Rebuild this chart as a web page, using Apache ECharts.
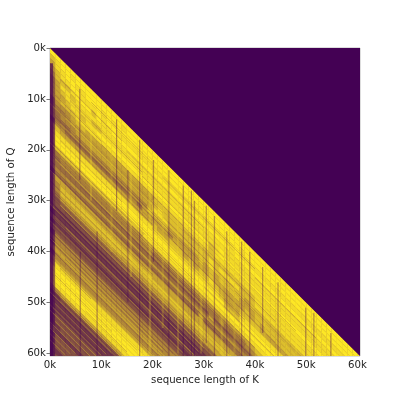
<!DOCTYPE html>
<html><head><meta charset="utf-8">
<script src="https://cdn.jsdelivr.net/npm/echarts@6/dist/echarts.min.js"></script>
<style>html,body{margin:0;padding:0;background:#fff}#c{width:400px;height:400px}</style>
</head><body><div id="c"></div><script>
// One string per Q row (1k steps); one digit per K cell (1k steps), 0 = dark, 9 = bright. Read by eye.
const cellRows = [
"9","79","689","5899","47899","378989","3678999","36879899","367889899","2668798999",
"2677889899 9","2567888989 99","2456788879 899","1456787889 8999","2545788878 89899","2754578887 889989",
"2864567789 8898999","2986456778 98898999","2998645677 898898999","2899864567 7898898999",
"2589986456 7789889899 9","2468998645 6778988989 99","2456899864 5677898898 999","1545689986 4567789889 8999",
"2454568998 6456778988 98999","2645456899 8645677898 898999","2564545689 9864567789 8898999","2576454568 9986456778 98898999",
"2477645456 8998655677 898898999","2367764545 6899865567 7898898999","2346776454 5689986456 7789889899 9",
"1234677645 4568998667 8878988989 99","2223467764 5456899866 7877898898 999","1322346776 4545689986 6787789889 8999",
"2232234677 6454568998 7677778988 98999","1323223467 7645456899 8666777898 898999","2432322346 7764545689 9865677789 8898999",
"1543232234 6776454568 9987667778 98898999","2554323223 4677645456 8998766777 878898999","1655432322 3467764545 6899876677 7789889899",
"2565543232 2346776454 5689986667 7789889899 9","2656554323 2234677645 4568998767 7878988989 99",
"3865655432 3223467764 5456899866 6877898898 999","3986565543 2322346776 4545689987 6778789889 8999",
"3998656554 3232234677 6454568998 7767878988 98999","3999865655 4323223467 7645456899 8867787898 898999",
"2899986565 5432322346 7764545689 9876778789 8898999","1589998656 5543232234 6776454568 9986677778 98898999",
"1268999865 6554323223 4677645456 8997667777 898898999","1236899986 5655432322 3467764545 6899666667 8898898999",
"1223689998 6565543232 2346776454 5689766667 8889889899 9","1222368999 8656554323 2234677645 4568976776 7888988989 99",
"1322236899 9865655432 3223467766 5656897876 7788898898 999","1332223689 9986565543 2322346776 4546689987 7778889889 8999",
"2233222368 9998656554 3232234677 6454568998 7677888988 98999","1233322236 8999865655 4323223467 7645456899 8677788898 898999",
"1323332223 6899986565 5432322346 7764545689 9867778889 8898999","1332333222 3689998656 5543232234 6776454568 9986777888 98898999",
"1333233322 2368999865 6554323223 4677645456 8998677788 898898999","1233323332 2236899986 5655432322 3467764545 7899867778 8898898999",
"1323332333 2223789998 6565543232 2346776454 6799986777 8889889899 9"
];
// Thin diagonal streaks: [Q - K offset in k, from K in k, to K in k]
const darkDiagonals = [
[2.6,8,20],[3.4,22,40],[4.2,2,14],[5.3,15,30],[5.1,40,52],[6.4,4,18],[7.2,18,34],[7.6,34,48],[8.3,1,10],[8.9,10,26],
[9.7,26,44],[10.4,3,22],[11.2,22,36],[11.6,36,49],[12.5,1,30],[13.3,0,24],[13.9,24,44],[14.7,5,20],[15.4,20,38],[16.2,2,14],
[16.8,30,44],[17.5,12,28],[18.3,0,16],[18.9,16,40],[19.6,2,38],[20.4,0,30],[21.3,6,39],[22.1,0,26],[22.8,26,38],[23.6,1,34],
[24.5,4,20],[25.2,20,35],[26.1,0,16],[26.8,14,33],[27.5,1,30],[28.4,0,32],[29.2,3,30],[30.1,0,30],[31.0,2,29],[31.8,0,28],
[32.6,1,27],[33.5,4,27],[34.3,0,26],[35.1,2,25],[36.0,0,24],[36.9,4,23],[37.7,0,22],[38.5,3,22],[39.3,0,21],[40.2,1,20],
[41.3,2,8],[42.4,6,17],[43.6,1,12],[44.7,7,15],[46.6,0,14],[47.4,0,13],[48.3,0,12]
];
const lightDiagonals = [
[28.9,2,30],[30.6,0,29],[32.2,3,28],[33.9,0,26],[35.6,1,25],[37.3,0,22],[39,2,21],[47.9,0,12],[49.2,1,11],[50.4,0,10],
[51.5,0,9],[52.7,1,8],[53.8,0,6],[55,0,5],[56.1,0,4],[57.3,0,3],[20.9,1,30],[22.5,3,36],[24,0,30],[25.7,6,30],
[18.6,0,30],[12.9,2,20],[10.9,0,20]
];
// Wide, faint darkening along the bands: same layout as the thin diagonals
const broadDiagonals = [
[10,0,20],[19,0,18],[20.5,20,38]
];
// Thin vertical streaks: [K in k, from Q in k, to Q in k]
const darkColumns = [
[5.8,8,26],[5.9,40,60.5],[9.2,36,60.5],[13,14,32],[15.2,24,50],[17.5,18,60.5],[20.2,22,42],[23.2,24,60.5],[26,27,60.5],
[27.6,28,60.5],[28.2,30,60.5],[30.5,31,58],[32.1,33,60.5],[34.5,36,60.5],[37.4,38,60.5],[39,40,60.5],[41.5,43,56],[44.5,46,60.5],
[49.9,51,60.5],[51.5,52,60.5],[54.8,56,60.5]
];
const lightColumns = [
[8,10,30],[12,14,40],[15.8,18,45],[19.5,22,60],[22,24,55],[25,28,60],[29.5,32,60],[33.5,36,60],[36,38,60],[42,44,60],[46,47,60],[48,50,60]
];
// The dark strip along the left edge: [K in k, from Q in k, to Q in k]
const edgeColumns = [[0.3,3,60.5]];
const cellSize = 1000;
const axisMax = 60500;
const emptyCorners = [[0,0],[axisMax,0],[axisMax,axisMax]];
const tickValues = [0,10000,20000,30000,40000,50000,60000];
const kAxisName = "sequence length of K";
const qAxisName = "sequence length of Q";

const cells = [];
cellRows.forEach((row, q) => {
  row.replace(/ /g,'').split('').forEach((d, k) => cells.push([k*cellSize, q*cellSize, +d]));
});
const chart = echarts.init(document.getElementById('c'), null, {renderer:'canvas'});
const tickFmt = v => (v/1000) + 'k';
const axisBase = {
  type:'value', min:0, max:axisMax, interval:10000, nameLocation:'middle',
  nameTextStyle:{color:'#262626',fontFamily:'DejaVu Sans',fontSize:10.2},
  axisLine:{show:false}, splitLine:{show:false},
  axisTick:{show:true,length:3.5,customValues:tickValues,lineStyle:{color:'#555',width:0.8}},
  axisLabel:{color:'#262626',fontFamily:'DejaVu Sans',fontSize:10.2,margin:4,formatter:tickFmt,customValues:tickValues}
};
const streakSeries = (data, pts, color, opacity, width) => ({
  type:'custom',coordinateSystem:'cartesian2d',data:data,clip:true,silent:true,z:3,
  dimensions:['a','b','c'],encode:{x:[],y:[]},
  renderItem:(p,api)=>{
    const e=pts(api.value(0),api.value(1),api.value(2));
    const a=api.coord([e[0]*cellSize,e[1]*cellSize]), b=api.coord([e[2]*cellSize,e[3]*cellSize]);
    return {type:'line',shape:{x1:a[0],y1:a[1],x2:b[0],y2:b[1]},style:{stroke:color,opacity:opacity,lineWidth:width,fill:null}};
  }
});
const diag = (d,k0,k1)=>[k0,k0+d,k1,k1+d];
const vert = (k,q0,q1)=>[k,q0,k,q1];
chart.setOption({
  animation:false,
  backgroundColor:'#fff',
  grid:{left:50,top:48,width:310,height:308,show:true,borderColor:'#aaa',borderWidth:0.8,backgroundColor:'#440154',outerBoundsMode:'none'},
  xAxis:Object.assign({},axisBase,{name:kAxisName,nameGap:13,position:'bottom'}),
  yAxis:Object.assign({},axisBase,{name:qAxisName,nameGap:20,inverse:true,position:'left'}),
  visualMap:{show:false,seriesIndex:0,dimension:2,min:0,max:8.5,inRange:{color:['#440154','#fde725']}},
  series:[{
    type:'custom',coordinateSystem:'cartesian2d',data:cells,encode:{x:0,y:1},clip:true,silent:true,
    renderItem:(p,api)=>{
      // each cell is sheared along the diagonal, the direction of the picture's bands
      const k=api.value(0), q=api.value(1);
      const pts=[[k,q],[k+cellSize,q+cellSize],[k+cellSize,q+2*cellSize],[k,q+cellSize]].map(c=>api.coord(c));
      const c=api.visual('color');
      return {type:'polygon',shape:{points:pts},style:{fill:c,stroke:c,lineWidth:0.4}};
    }
  },
  streakSeries(broadDiagonals,diag,'#440154',0.12,7),
  streakSeries(lightDiagonals,diag,'#fde725',0.3,1),
  streakSeries(darkDiagonals,diag,'#440154',0.22,1),
  streakSeries(lightColumns,vert,'#fde725',0.22,2),
  streakSeries(darkColumns,vert,'#440154',0.38,1.2),
  streakSeries(edgeColumns,vert,'#440154',0.65,3),
  {
    type:'custom',coordinateSystem:'cartesian2d',data:[0],clip:true,silent:true,z:5,
    renderItem:(p,api)=>({type:'polygon',shape:{points:emptyCorners.map(c=>api.coord(c))},style:{fill:'#440154'}})
  }]
});
</script></body></html>
